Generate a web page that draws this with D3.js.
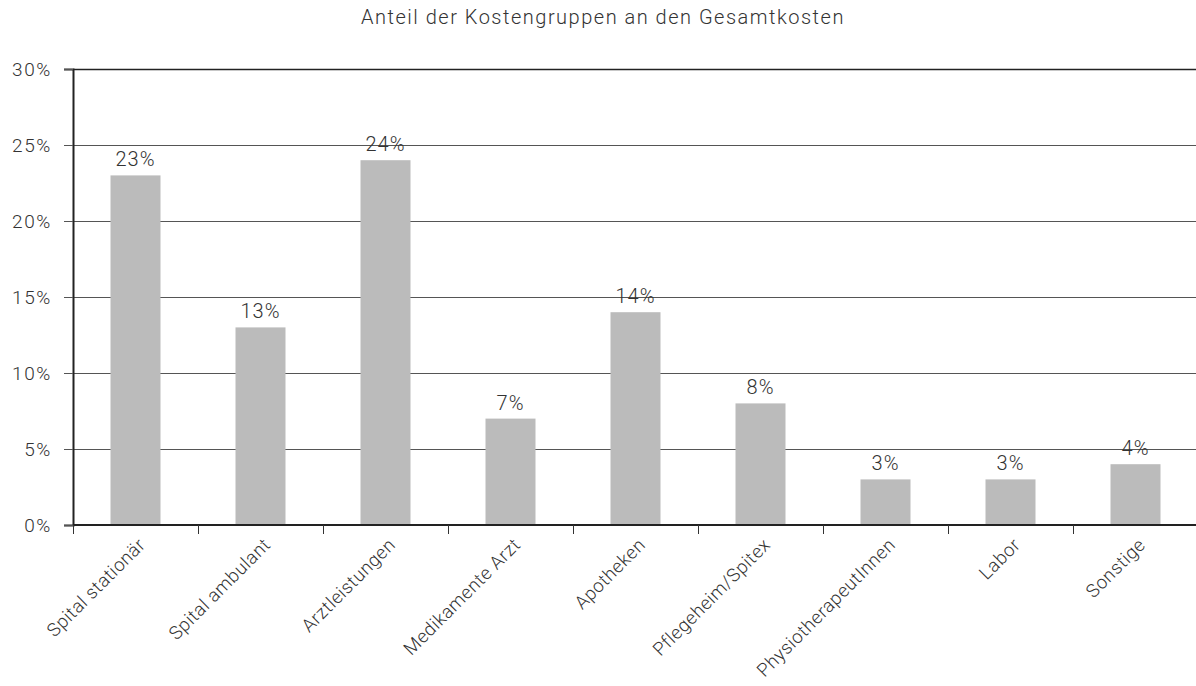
<!DOCTYPE html>
<html>
<head>
<meta charset="utf-8">
<script src="https://cdn.jsdelivr.net/npm/d3@7"></script>
<style>
  body { margin: 0; background: #fff; }
  text { font-family: Roboto, "Liberation Sans", Arial, sans-serif; font-weight: 300; fill: #333; }
</style>
</head>
<body>
<div id="chart"></div>
<script>
// Daten
var categories = ["Spital stationär", "Spital ambulant", "Arztleistungen", "Medikamente Arzt",
  "Apotheken", "Pflegeheim/Spitex", "PhysiotherapeutInnen", "Labor", "Sonstige"];
var values = [23, 13, 24, 7, 14, 8, 3, 3, 4];
var yTicks = [0, 5, 10, 15, 20, 25, 30];
var title = "Anteil der Kostengruppen an den Gesamtkosten";

var W = 1196, H = 686;
var margin = {top: 69, left: 73, bottom: 161};
var plotH = H - margin.top - margin.bottom;

var svg = d3.select("#chart").append("svg")
  .attr("width", W).attr("height", H);

var x = d3.scaleBand()
  .domain(categories)
  .range([margin.left, margin.left + 125 * categories.length])
  .paddingInner(0.6).paddingOuter(0.3);

var y = d3.scaleLinear()
  .domain([0, 30])
  .range([margin.top + plotH, margin.top]);

svg.append("text")
  .attr("x", 603).attr("y", 24)
  .attr("text-anchor", "middle")
  .style("font-size", "20px")
  .style("letter-spacing", "1.5px")
  .text(title);

// gridlines
svg.selectAll(".grid")
  .data(yTicks.filter(d => d > 0))
  .enter().append("line")
  .attr("x1", margin.left).attr("x2", W)
  .attr("y1", d => Math.round(y(d)) + 0.5).attr("y2", d => Math.round(y(d)) + 0.5)
  .attr("stroke", d => d == 30 ? "#222" : "#555")
  .attr("stroke-width", d => d == 30 ? 1.5 : 1);

// bars
svg.selectAll(".bar")
  .data(values)
  .enter().append("rect")
  .attr("class", "bar")
  .attr("x", (d, i) => x(categories[i]))
  .attr("width", x.bandwidth())
  .attr("y", d => y(d))
  .attr("height", d => y(0) - y(d))
  .attr("fill", "#bbbbbb");

// value labels
svg.selectAll(".lbl")
  .data(values)
  .enter().append("text")
  .attr("x", (d, i) => x(categories[i]) + x.bandwidth() / 2)
  .attr("y", d => y(d) - 9)
  .attr("text-anchor", "middle")
  .style("font-size", "20px")
  .style("letter-spacing", "1px")
  .text(d => d + "%");

// y axis
svg.append("g")
  .attr("transform", "translate(" + margin.left + ",0)")
  .call(d3.axisLeft(y).tickValues(yTicks).tickFormat(d => d + "%").tickSize(9).tickPadding(12))
  .call(g => g.select(".domain").attr("stroke", "#222").attr("stroke-width", 2))
  .call(g => g.selectAll(".tick line").attr("stroke", "#555"))
  .call(g => g.selectAll("text").style("font-size", "19px").style("letter-spacing", "1.6px")
    .style("font-family", "Roboto, 'Liberation Sans', Arial, sans-serif").attr("fill", "#333"));

// x axis baseline and ticks between categories
var step = x.step();
var xb = svg.append("g").attr("class", "xaxis");
xb.append("line")
  .attr("x1", margin.left).attr("x2", W)
  .attr("y1", y(0)).attr("y2", y(0))
  .attr("stroke", "#222").attr("stroke-width", 2);
xb.selectAll(".xt")
  .data(d3.range(categories.length))
  .enter().append("line")
  .attr("x1", i => Math.round(x(categories[i]) - step * 0.3) + 0.5)
  .attr("x2", i => Math.round(x(categories[i]) - step * 0.3) + 0.5)
  .attr("y1", y(0)).attr("y2", y(0) + 9)
  .attr("stroke", "#333");

xb.selectAll(".xl")
  .data(categories)
  .enter().append("text")
  .attr("transform", d => "translate(" + (x(d) + x.bandwidth() / 2 + 11) + "," + (y(0) + 21) + ") rotate(-45)")
  .attr("text-anchor", "end")
  .style("font-size", "18.5px")
  .style("letter-spacing", "0.5px")
  .text(d => d);
</script>
</body>
</html>
